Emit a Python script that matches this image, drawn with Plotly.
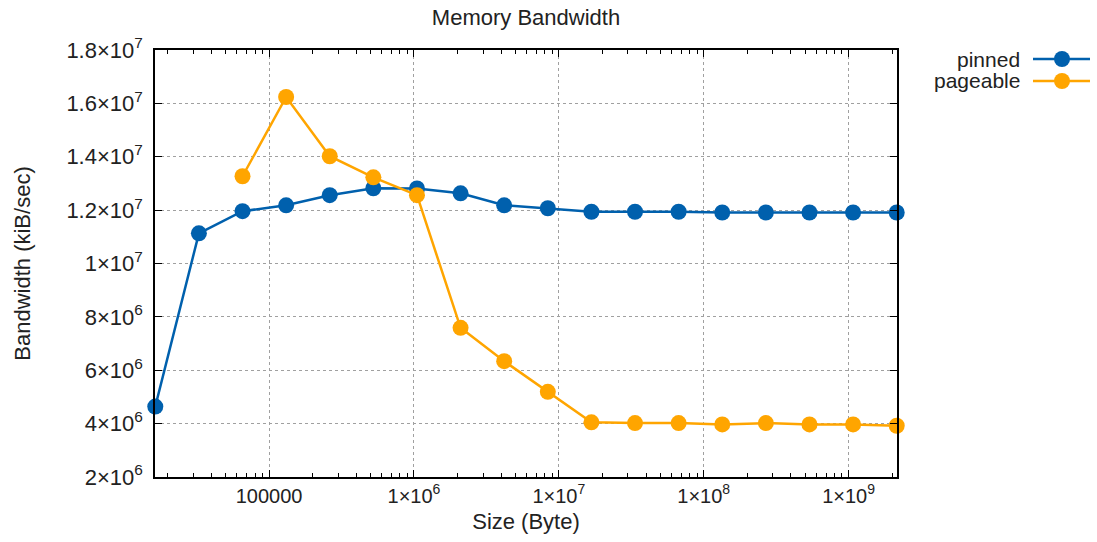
import plotly.graph_objects as go
import math

# Transfer sizes in bytes (2^14 .. 2^31)
sizes = [2 ** k for k in range(14, 32)]

# Bandwidth in kiB/sec
pinned = [4.64e6, 1.113e7, 1.196e7, 1.218e7, 1.256e7, 1.282e7, 1.281e7, 1.263e7,
          1.218e7, 1.207e7, 1.194e7, 1.194e7, 1.194e7, 1.191e7, 1.191e7, 1.191e7,
          1.191e7, 1.191e7]
pageable_sizes = sizes[2:]
pageable = [1.327e7, 1.624e7, 1.402e7, 1.323e7, 1.256e7, 7.59e6, 6.34e6, 5.19e6,
            4.05e6, 4.02e6, 4.02e6, 3.97e6, 4.02e6, 3.97e6, 3.97e6, 3.92e6]

series_names = ["pinned", "pageable"]
series_colors = ["#0060ad", "#ffa500"]

x_major = [1e5, 1e6, 1e7, 1e8, 1e9]
x_major_text = ["100000", "1×10<sup>6</sup>", "1×10<sup>7</sup>",
                "1×10<sup>8</sup>", "1×10<sup>9</sup>"]
y_major = [2e6, 4e6, 6e6, 8e6, 1e7, 1.2e7, 1.4e7, 1.6e7, 1.8e7]
y_major_text = ["2×10<sup>6</sup>", "4×10<sup>6</sup>", "6×10<sup>6</sup>",
                "8×10<sup>6</sup>", "1×10<sup>7</sup>", "1.2×10<sup>7</sup>",
                "1.4×10<sup>7</sup>", "1.6×10<sup>7</sup>", "1.8×10<sup>7</sup>"]

# Minor ticks at 2..9 × each decade
x_minor = [m * 10 ** d for d in range(4, 10) for m in range(2, 10)
           if 16384 <= m * 10 ** d <= 2 ** 31]

FONT = "Liberation Sans, Arial, sans-serif"
TXT = "#222222"
W, H = 1097, 542
L, R, T, B = 155, 200, 50, 65
pw, ph = W - L - R, H - T - B

fig = go.Figure()
for name, xs, ys, col in [(series_names[0], sizes, pinned, series_colors[0]),
                          (series_names[1], pageable_sizes, pageable, series_colors[1])]:
    fig.add_trace(go.Scatter(
        x=xs, y=ys, name=name, mode="lines+markers",
        line=dict(color=col, width=2.5),
        marker=dict(color=col, size=16, symbol="circle"),
        cliponaxis=False, showlegend=False))

axis_common = dict(
    showline=True, linecolor="#000000", linewidth=1.5, mirror="ticks",
    ticks="inside", ticklen=7, tickcolor="#000000", tickwidth=1.2,
    showgrid=True, gridcolor="#a0a0a0", griddash="dot", gridwidth=1,
    zeroline=False,
)

# small padding so the end markers are kept inside the axis range
pad = 0.002
fig.update_xaxes(
    type="log", range=[math.log10(16384) - pad, math.log10(2 ** 31) + pad],
    tickmode="array", tickvals=x_major, ticktext=x_major_text,
    tickfont=dict(family=FONT, size=20, color=TXT),
    minor=dict(tickmode="array", tickvals=x_minor, ticks="inside", ticklen=4,
               tickcolor="#000000", showgrid=False),
    title=dict(text="Size (Byte)", font=dict(family=FONT, size=22, color=TXT),
               standoff=8),
    **axis_common)
fig.update_yaxes(
    range=[2e6, 1.8e7], tickmode="array", tickvals=y_major, ticktext=y_major_text,
    tickfont=dict(family=FONT, size=22, color=TXT), ticklabelstandoff=6,
    title=dict(text="Bandwidth (kiB/sec)", font=dict(family=FONT, size=22, color=TXT),
               standoff=30),
    **axis_common)

# Key in the top-right corner: label, then line sample with a marker
shapes = []
annotations = []
for i, (name, col) in enumerate(zip(series_names, series_colors)):
    py = 59 + i * 22
    yp = (H - B - py) / ph
    x0 = (1033 - L) / pw
    x1 = (1090 - L) / pw
    xc = (1062 - L) / pw
    rx, ry = 8 / pw, 8 / ph
    shapes.append(dict(type="line", xref="paper", yref="paper", x0=x0, x1=x1,
                       y0=yp, y1=yp, line=dict(color=col, width=2.5)))
    shapes.append(dict(type="circle", xref="paper", yref="paper",
                       x0=xc - rx, x1=xc + rx, y0=yp - ry, y1=yp + ry,
                       fillcolor=col, line=dict(color=col, width=0)))
    annotations.append(dict(text=name, xref="paper", yref="paper",
                            x=(1022 - L) / pw, y=yp, xanchor="right", yanchor="middle",
                            showarrow=False,
                            font=dict(family=FONT, size=21, color=TXT)))

fig.update_layout(
    width=W, height=H,
    margin=dict(l=L, r=R, t=T, b=B),
    paper_bgcolor="#ffffff", plot_bgcolor="#ffffff",
    title=dict(text="Memory Bandwidth", x=0.5, xref="paper",
               y=1 - 17 / H, yref="container", yanchor="middle",
               font=dict(family=FONT, size=22, color=TXT)),
    shapes=shapes, annotations=annotations,
)

fig.write_html("out.html")
